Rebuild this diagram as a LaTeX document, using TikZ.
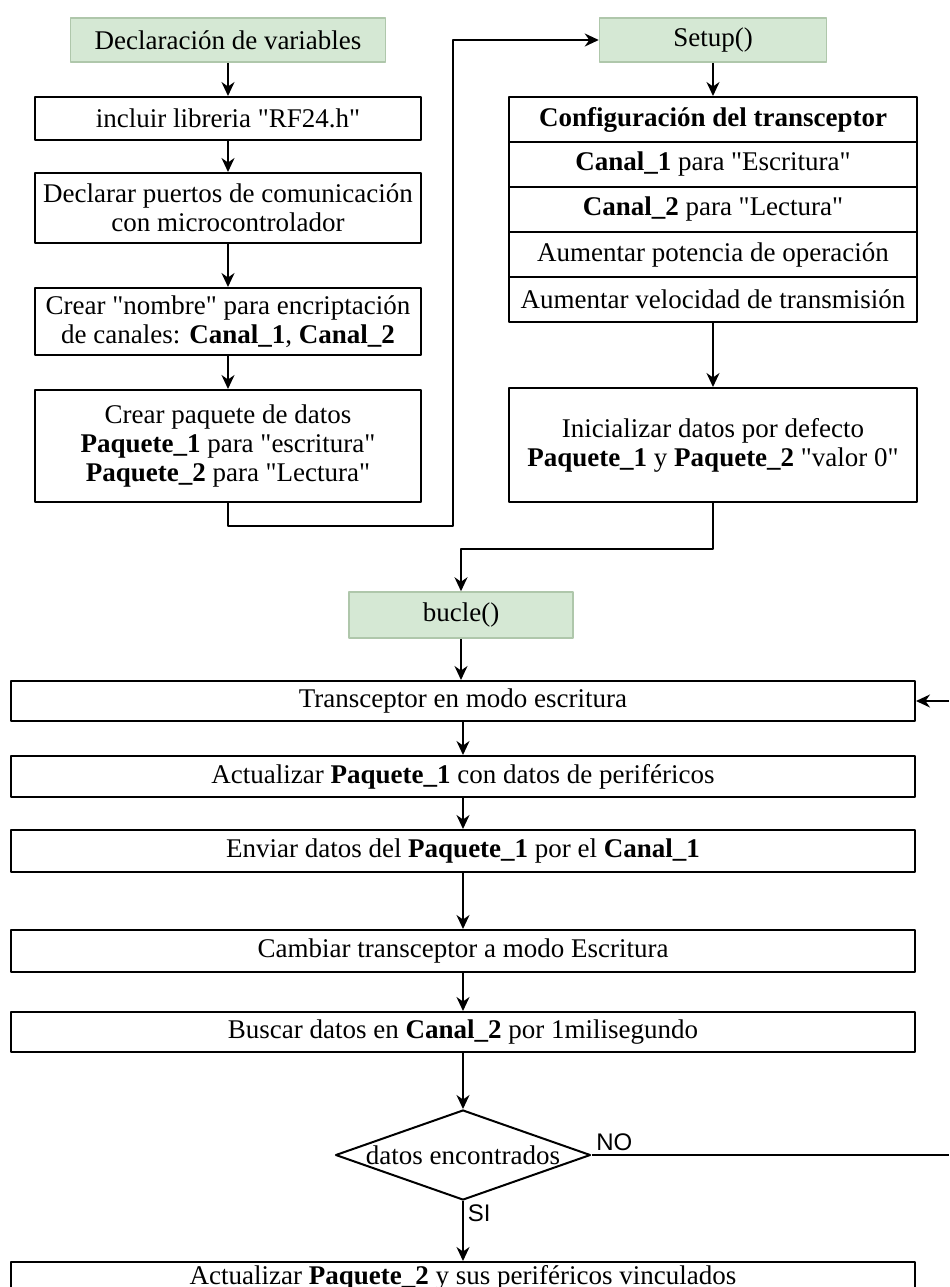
\documentclass[tikz,border=0pt]{standalone}
\usepackage{fontspec}
\setmainfont{Liberation Serif}[Ligatures=TeXOff]
\setsansfont{Liberation Sans}
\usetikzlibrary{arrows.meta,shapes.geometric}
\definecolor{verde}{HTML}{D5E8D4}
\definecolor{bordeverde}{HTML}{AFC7AB}

\begin{document}
\begin{tikzpicture}[x=0.4pt,y=-0.4pt,line join=round,
 font=\fontsize{10.8}{11.6}\selectfont,
 inicio/.style={draw=bordeverde,fill=verde,line width=.6pt,minimum height=17.6pt,inner sep=0pt},
 caja/.style={draw,line width=.8pt,align=center,inner sep=0pt},
 flecha/.style={-{Stealth[length=5.6pt,width=5.2pt]},line width=.8pt},
 decision/.style={draw,diamond,line width=.8pt,inner sep=0pt,minimum width=102pt,minimum height=36pt},
 etiq/.style={font=\sffamily\fontsize{9.6}{11}\selectfont,inner sep=1.5pt}]
 \useasboundingbox[fill=white] (0,0) rectangle (949,1287);
 \clip (0,0) rectangle (949,1287);

 % declaraciones
 \node[inicio,minimum width=126pt] (decl) at (228,40) {Declaración de variables};
 \node[caja,minimum width=154pt,minimum height=17.2pt] (incl) at (228,118.5) {incluir libreria "RF24.h"};
 \node[caja,minimum width=154pt,minimum height=28pt] (puer) at (228,208) {Declarar puertos de comunicación\\con microcontrolador};
 \node[caja,minimum width=154pt,minimum height=26.8pt] (nomb) at (228,321.5) {Crear "nombre" para encriptación\\de canales: \textbf{Canal\_1}, \textbf{Canal\_2}};
 \node[caja,minimum width=154pt,minimum height=44.8pt] (paq) at (228,446) {Crear paquete de datos\\\textbf{Paquete\_1} para "escritura"\\\textbf{Paquete\_2} para "Lectura"};

 % setup
 \node[inicio,minimum width=90.8pt] (setup) at (713,40) {Setup()};
 \foreach \t [count=\i] in {{\textbf{Configuración del transceptor}},
   {\textbf{Canal\_1} para "Escritura"},{\textbf{Canal\_2} para "Lectura"},
   {Aumentar potencia de operación},{Aumentar velocidad de transmisión}}
  \node[caja,minimum width=163.2pt,minimum height=18pt] (f\i) at (713,{74.5+45*\i}) {\t};
 \node[caja,minimum width=163.2pt,minimum height=45.6pt] (ini) at (713,445) {Inicializar datos por defecto\\\textbf{Paquete\_1} y \textbf{Paquete\_2} "valor 0"};

 % bucle
 \node[inicio,minimum width=89.6pt,minimum height=18.4pt] (bucle) at (461,615) {bucle()};
 \node[caja,minimum width=361.6pt,minimum height=16pt] (tx) at (463,701) {Transceptor en modo escritura};
 \node[caja,minimum width=361.6pt,minimum height=16.4pt] (act1) at (463,776.5) {Actualizar \textbf{Paquete\_1} con datos de periféricos};
 \node[caja,minimum width=361.6pt,minimum height=16.8pt] (env) at (463,851) {Enviar datos del \textbf{Paquete\_1} por el \textbf{Canal\_1}};
 \node[caja,minimum width=361.6pt,minimum height=16.8pt] (camb) at (463,951) {Cambiar transceptor a modo Escritura};
 \node[caja,minimum width=361.6pt,minimum height=16pt] (busc) at (463,1032) {Buscar datos en \textbf{Canal\_2} por 1milisegundo};
 \node[decision,label=center:{datos encontrados}] (dec) at (463,1155) {};
 \node[caja,minimum width=361.6pt,minimum height=12.8pt] (act2) at (463,1278) {Actualizar \textbf{Paquete\_2} y sus periféricos vinculados};
 \coordinate (noFin) at (949,1155);
 \coordinate (retorno) at (949,701);

 % conexiones
 \draw[flecha] (decl) -- (incl);
 \draw[flecha] (incl) -- (puer);
 \draw[flecha] (puer) -- (nomb);
 \draw[flecha] (nomb) -- (paq);
 \draw[flecha] (paq.south) -- ++(0,23) -- ++(225,0) |- (setup.west);
 \draw[flecha] (setup) -- (f1);
 \draw[flecha] (f5) -- (ini);
 \draw[flecha] (ini.south) -- ++(0,46) -| (bucle.north);
 \draw[flecha] (bucle) -- (bucle |- tx.north);
 \draw[flecha] (tx) -- (act1);
 \draw[flecha] (act1) -- (env);
 \draw[flecha] (env) -- (camb);
 \draw[flecha] (camb) -- (busc);
 \draw[flecha] (busc) -- (dec);
 \draw[flecha] (dec) -- node[etiq,pos=.2,right]{SI} (act2);
 \draw[line width=.8pt] (dec.east) -- node[etiq,pos=0,above right]{NO} (noFin);
 \draw[flecha] (retorno) -- (tx.east);
\end{tikzpicture}
\end{document}
